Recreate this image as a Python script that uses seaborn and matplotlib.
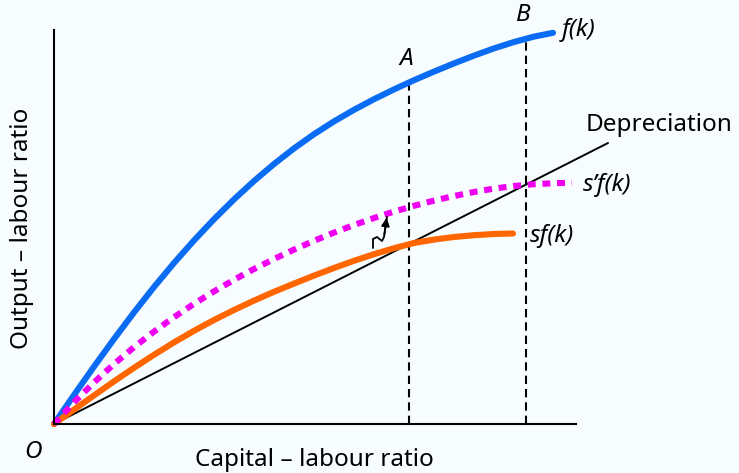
import numpy as np
import matplotlib
matplotlib.use("Agg")
import matplotlib.pyplot as plt
import seaborn as sns

# curves (x = capital-labour ratio, y = output-labour ratio, arbitrary units)
fk_x = [0, 20, 40, 60, 80, 100, 120, 140, 160, 180, 200, 220, 240, 260, 280,
        300, 320, 340, 360, 380, 400, 420, 440, 460, 480, 499]
fk_y = [0, 29, 57.4, 85, 111.6, 137, 161, 183.6, 204.8, 224.6, 243, 260, 275.6, 289.8, 302.6,
        314.2, 324.8, 334.6, 343.8, 352.4, 360.6, 368.4, 375.6, 382, 387.4, 391.2]

sfk_x = [0, 20, 40, 60, 80, 100, 120, 140, 160, 180, 200, 220, 240, 260, 280,
         300, 320, 340, 360, 380, 400, 420, 440, 459]
sfk_y = [0, 14.4, 28.6, 42.6, 56.2, 69.2, 81.6, 93.2, 104, 114, 123.4, 132.2, 140.4, 148.4, 156,
         163.2, 169.8, 175.8, 181, 184.4, 187, 188.8, 190, 190.5]

s2fk_x = [0, 20, 40, 60, 80, 100, 120, 140, 160, 180, 200, 220, 240, 260, 280,
          300, 320, 340, 360, 380, 400, 420, 440, 460, 480, 500, 518]
s2fk_y = [0, 21.6, 41.6, 60, 76.8, 92.4, 106.8, 120.2, 132.6, 144.2, 155, 165, 174.4, 183.2, 191.4,
          199, 206, 212.4, 218.2, 223.4, 228, 232, 235.4, 238, 239.8, 240.8, 241.2]

dep_x = [0, 554]
dep_y = [0, 281]

# steady states A and B
ss_x = [355, 472]
ss_top = [342, 386]
ss_names = ["A", "B"]

# squiggly arrow from sf(k) to s'f(k)
sq_x = [319, 319, 323, 328, 330, 333]
sq_y = [176, 185, 187, 183, 187, 207]

bg = "#f7fcfe"
sns.set_style("white")
plt.rcParams["font.family"] = ["Noto Sans", "DejaVu Sans"]
plt.rcParams["text.color"] = "black"
fs = 17.5

W, H = 739, 473
fig = plt.figure(figsize=(W / 100, H / 100), dpi=100, facecolor=bg)
ax = fig.add_axes([54 / W, (H - 424) / H, 522 / W, 394 / H], facecolor=bg)

sns.lineplot(x=dep_x, y=dep_y, color="black", linewidth=1.4, ax=ax, clip_on=False)
sns.lineplot(x=fk_x, y=fk_y, color="#0a6cf2", linewidth=4.4, ax=ax, clip_on=False)
sns.lineplot(x=sfk_x, y=sfk_y, color="#ff6600", linewidth=4.4, ax=ax, clip_on=False)
sns.lineplot(x=s2fk_x, y=s2fk_y, color="#f000f0", linewidth=4.4, ax=ax, clip_on=False)
ax.lines[-1].set_dashes((1.3, 1.1))
ax.lines[-1].set_dash_capstyle("butt")

for xv, top, nm in zip(ss_x, ss_top, ss_names):
    ax.plot([xv, xv], [0, top], color="black", linewidth=1.5, dashes=(4, 2.4), zorder=1)
    ax.text(xv - 3, top + 23, nm, fontsize=fs, style="italic", ha="center", va="center")

ax.plot(sq_x, sq_y, color="black", linewidth=1.3)
ax.annotate("", xy=(sq_x[-1], sq_y[-1] + 2), xytext=(sq_x[-2], sq_y[-2]),
            arrowprops=dict(arrowstyle="-|>", color="black", lw=1.3, mutation_scale=12))

ax.text(508, 394, "f(k)", fontsize=fs, style="italic", va="center", ha="left")
ax.text(532, 299, "Depreciation", fontsize=fs, va="center", ha="left")
ax.text(529, 239, "s\u2019f(k)", fontsize=fs, style="italic", va="center", ha="left")
ax.text(476, 188, "sf(k)", fontsize=fs, style="italic", va="center", ha="left")
ax.text(-21, -28, "O", fontsize=fs, style="italic", va="center", ha="center")

ax.set_xlim(0, 522)
ax.set_ylim(0, 394)
ax.set_xticks([])
ax.set_yticks([])
for side in ["top", "right"]:
    ax.spines[side].set_visible(False)
for side in ["left", "bottom"]:
    ax.spines[side].set_linewidth(1.5)
    ax.spines[side].set_color("black")

fig.text(314 / W, 1 - 460 / H, "Capital \u2013 labour ratio", fontsize=fs, ha="center", va="center")
fig.text(22 / W, 1 - 228 / H, "Output \u2013 labour ratio", fontsize=fs, ha="center", va="center",
         rotation=90)

fig.savefig("out.png", dpi=100, facecolor=bg)
